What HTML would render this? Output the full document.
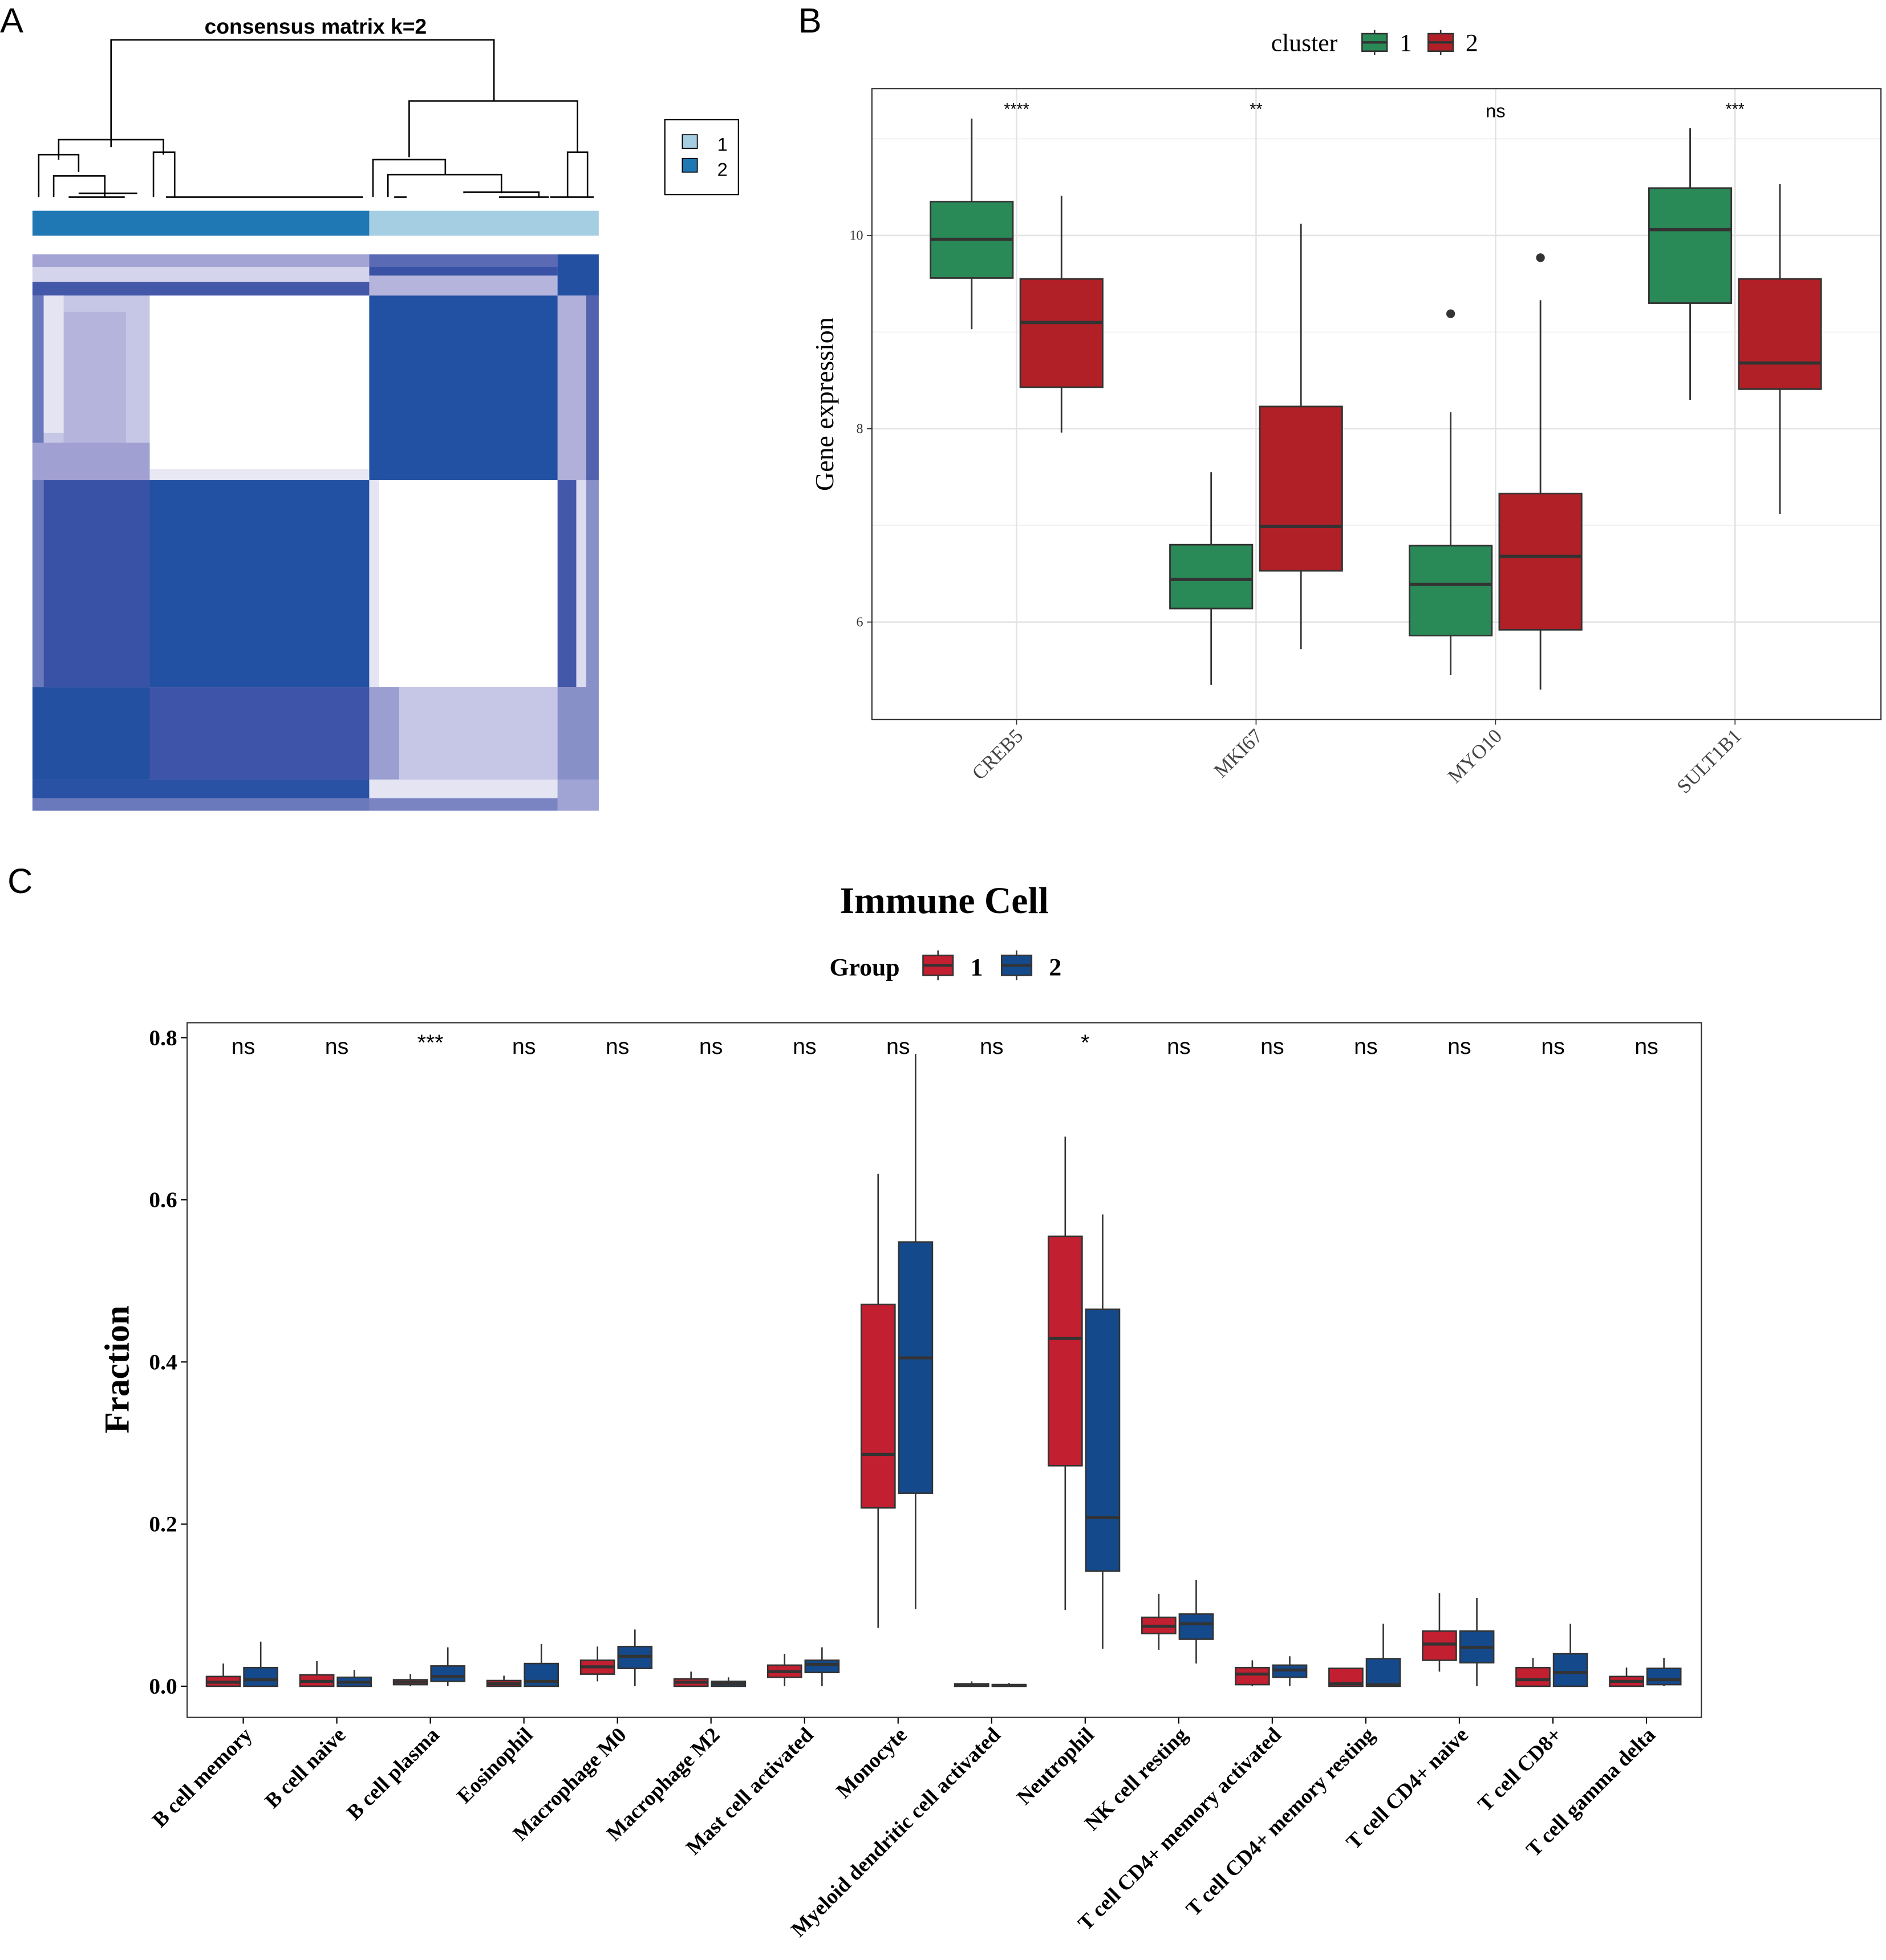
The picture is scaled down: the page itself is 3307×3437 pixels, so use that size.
<!DOCTYPE html>
<html><head><meta charset="utf-8"><style>
html,body{margin:0;padding:0;background:#fff;}
svg{display:block;}
.serif{font-family:"Liberation Serif",serif;}
.sans{font-family:"Liberation Sans",sans-serif;}
</style></head><body>
<svg id="fig" xmlns="http://www.w3.org/2000/svg" width="3307" height="3437" viewBox="0 0 1512 1571.5">
<rect x="0" y="0" width="1512" height="1571.5" fill="#fff"/>
<text class="sans" x="0" y="26" font-size="28">A</text>
<text class="sans" x="640" y="26" font-size="28">B</text>
<text class="sans" x="6" y="716" font-size="28">C</text>

<g id="panelA">
<text class="sans" x="253" y="27" font-size="17" font-weight="bold" text-anchor="middle">consensus matrix k=2</text>
<g id="dendro" stroke="#000" stroke-width="1.2" fill="none">
<path d="M89 118 V32 H396 V81"/>
<path d="M47 128 V112 H131 V124"/>
<path d="M31 158 V124 H63 V138"/>
<path d="M43 158 V141 H84 V158"/>
<path d="M55 158 H100 M63 155 H110"/>
<path d="M123 158 V122 H140 V158 M133 158 H150 M140 158 H291"/>
<path d="M328 126 V81 H463 V122"/>
<path d="M299 158 V128 H357 V140"/>
<path d="M311 158 V140 H402 V155"/>
<path d="M316 158 H326 M372 155 V154 H432 V158 M400 158 H440"/>
<path d="M455 158 V122 H471 V158 M441 158 H476"/>
</g>
<rect x="26" y="169" width="270" height="20" fill="#1f78b4"/>
<rect x="296" y="169" width="184" height="20" fill="#a6cee3"/>
<g id="heat">
<rect x="26" y="204" width="454" height="446" fill="#b0b0da"/>
<rect x="26" y="204" width="270" height="10" fill="#a4a4d4"/>
<rect x="26" y="214" width="270" height="12" fill="#d4d4ec"/>
<rect x="26" y="226" width="270" height="11" fill="#4458aa"/>
<rect x="296" y="204" width="151" height="10" fill="#5a6ab4"/>
<rect x="296" y="214" width="151" height="7" fill="#3a52a6"/>
<rect x="296" y="221" width="151" height="16" fill="#b4b4dc"/>
<rect x="447" y="204" width="33" height="33" fill="#2450a2"/>
<rect x="26" y="237" width="9" height="148" fill="#6a78bc"/>
<rect x="35" y="237" width="85" height="148" fill="#c6c6e6"/>
<rect x="51" y="250" width="50" height="105" fill="#b4b4dc"/>
<rect x="35" y="237" width="16" height="110" fill="#e4e4f2"/>
<rect x="26" y="355" width="94" height="30" fill="#a0a0d2"/>
<rect x="120" y="237" width="176" height="148" fill="#ffffff"/>
<rect x="120" y="376" width="176" height="9" fill="#e8e8f4"/>
<rect x="296" y="237" width="151" height="148" fill="#2250a2"/>
<rect x="447" y="237" width="23" height="148" fill="#b0b0da"/>
<rect x="470" y="237" width="10" height="148" fill="#5262ae"/>
<rect x="26" y="385" width="9" height="166" fill="#6a78bc"/>
<rect x="35" y="385" width="85" height="166" fill="#3a52a6"/>
<rect x="120" y="385" width="176" height="166" fill="#2250a2"/>
<rect x="296" y="385" width="151" height="166" fill="#ffffff"/>
<rect x="296" y="385" width="8" height="166" fill="#e4e4f2"/>
<rect x="447" y="385" width="15" height="166" fill="#4458aa"/>
<rect x="462" y="385" width="8" height="166" fill="#dcdcf0"/>
<rect x="470" y="385" width="10" height="166" fill="#8890c8"/>
<rect x="26" y="551" width="94" height="74" fill="#2450a2"/>
<rect x="120" y="551" width="176" height="74" fill="#3e54a8"/>
<rect x="296" y="551" width="151" height="74" fill="#c6c6e6"/>
<rect x="296" y="551" width="24" height="74" fill="#9a9ed0"/>
<rect x="447" y="551" width="33" height="74" fill="#8890c8"/>
<rect x="26" y="625" width="270" height="15" fill="#2a52a4"/>
<rect x="26" y="640" width="270" height="10" fill="#6a78bc"/>
<rect x="296" y="625" width="151" height="15" fill="#e4e4f2"/>
<rect x="296" y="640" width="151" height="10" fill="#7a84c2"/>
<rect x="447" y="625" width="33" height="25" fill="#a0a4d4"/>
</g>
<g>
<rect x="533" y="96" width="59" height="60" fill="#fff" stroke="#000" stroke-width="1"/>
<rect x="547" y="108" width="12" height="11" fill="#a6cee3" stroke="#000" stroke-width="0.8"/>
<rect x="547" y="127" width="12" height="11" fill="#1f78b4" stroke="#000" stroke-width="0.8"/>
<text class="sans" x="575" y="121" font-size="15">1</text>
<text class="sans" x="575" y="141" font-size="15">2</text>
</g>
</g>

<g id="panelB"></g>
<g id="panelC"></g>
</svg>
<script>
const NS='http://www.w3.org/2000/svg';
function mk(parent,tag,attrs,text){const e=document.createElementNS(NS,tag);for(const k in attrs)e.setAttribute(k,attrs[k]);if(text!==undefined)e.textContent=text;parent.appendChild(e);return e;}

const bGenes=['CREB5','MKI67','MYO10','SULT1B1'];
const bSig=['****','**','ns','***'];
const bC1Min=[9.03,5.35,5.45,8.30];
const bC1Q1=[9.56,6.14,5.86,9.30];
const bC1Med=[9.96,6.44,6.39,10.06];
const bC1Q3=[10.35,6.80,6.79,10.49];
const bC1Max=[11.21,7.55,8.17,11.11];
const bC1Out=[null,null,9.19,null];
const bC2Min=[7.96,5.72,5.30,7.12];
const bC2Q1=[8.43,6.53,5.92,8.41];
const bC2Med=[9.10,6.99,6.68,8.68];
const bC2Q3=[9.55,8.23,7.33,9.55];
const bC2Max=[10.41,10.12,9.33,10.53];
const bC2Out=[null,null,9.77,null];
const bTicks=[6,8,10];

const cCells=['B cell memory','B cell naive','B cell plasma','Eosinophil','Macrophage M0','Macrophage M2','Mast cell activated','Monocyte','Myeloid dendritic cell activated','Neutrophil','NK cell resting','T cell CD4+ memory activated','T cell CD4+ memory resting','T cell CD4+ naive','T cell CD8+','T cell gamma delta'];
const cSig=['ns','ns','***','ns','ns','ns','ns','ns','ns','*','ns','ns','ns','ns','ns','ns'];
const cG1Min=[0,0,0,0,0.006,0,0,0.072,0,0.094,0.045,0,0,0.018,0,0];
const cG1Q1=[0,0,0.002,0,0.015,0,0.011,0.22,0,0.272,0.065,0.002,0,0.032,0,0];
const cG1Med=[0.005,0.006,0.005,0.003,0.024,0.005,0.018,0.286,0.002,0.429,0.074,0.015,0.003,0.052,0.008,0.006];
const cG1Q3=[0.012,0.014,0.008,0.007,0.032,0.009,0.026,0.471,0.003,0.555,0.085,0.023,0.022,0.068,0.023,0.012];
const cG1Max=[0.028,0.031,0.015,0.013,0.049,0.018,0.04,0.632,0.006,0.678,0.114,0.032,0.022,0.115,0.035,0.023];
const cG2Min=[0,0,0,0,0,0,0,0.095,0,0.046,0.028,0,0,0,0,0];
const cG2Q1=[0,0,0.006,0,0.022,0,0.017,0.238,0,0.142,0.058,0.011,0,0.029,0,0.002];
const cG2Med=[0.008,0.005,0.012,0.006,0.037,0.003,0.027,0.405,0.001,0.208,0.077,0.02,0.002,0.048,0.017,0.008];
const cG2Q3=[0.023,0.011,0.025,0.028,0.049,0.006,0.032,0.548,0.002,0.465,0.089,0.026,0.034,0.068,0.04,0.022];
const cG2Max=[0.055,0.02,0.048,0.052,0.07,0.011,0.048,0.78,0.004,0.582,0.131,0.037,0.077,0.109,0.077,0.035];
const cTicks=[0,0.2,0.4,0.6,0.8];
const cTickLabels=['0.0','0.2','0.4','0.6','0.8'];

function drawBox(g,cx,w,y,mn,q1,md,q3,mx,fill,lw){
  mk(g,'line',{x1:cx,x2:cx,y1:y(mx),y2:y(q3),stroke:'#333',"stroke-width":lw});
  mk(g,'line',{x1:cx,x2:cx,y1:y(q1),y2:y(mn),stroke:'#333',"stroke-width":lw});
  mk(g,'rect',{x:cx-w/2,y:y(q3),width:w,height:Math.max(0.5,y(q1)-y(q3)),fill:fill,stroke:'#333',"stroke-width":lw});
  mk(g,'line',{x1:cx-w/2,x2:cx+w/2,y1:y(md),y2:y(md),stroke:'#333',"stroke-width":lw*2});
}

(function(){
  const B=document.getElementById('panelB');
  const L=699,R=1508,T=71,Bt=577;
  const yMin=4.99,yMax=11.52;
  const y=v=>Bt-(v-yMin)/(yMax-yMin)*(Bt-T);
  const x=i=>815+192*i;
  const bg=mk(B,'g',{});
  
  
  for(let v=5;v<=11;v+=2){mk(bg,'line',{x1:L,x2:R,y1:y(v),y2:y(v),stroke:'#f0f0f0',"stroke-width":0.8});}
  bTicks.forEach(t=>{
    mk(bg,'line',{x1:L,x2:R,y1:y(t),y2:y(t),stroke:'#e3e3e3',"stroke-width":1.2});
    const tl=mk(B,'text',{x:L-7,y:y(t)+3.5,"font-size":11,"text-anchor":"end",class:"serif",fill:"#333"},String(t));
    
    
    mk(B,'line',{x1:L-4,x2:L,y1:y(t),y2:y(t),stroke:'#333',"stroke-width":0.8});
  });
  bGenes.forEach((gname,i)=>{
    mk(bg,'line',{x1:x(i),x2:x(i),y1:T,y2:Bt,stroke:'#e3e3e3',"stroke-width":1.2});
  });
  bGenes.forEach((gname,i)=>{
    const g=mk(B,'g',{});
    
    
    drawBox(g,x(i)-36,66,y,bC1Min[i],bC1Q1[i],bC1Med[i],bC1Q3[i],bC1Max[i],'#2a8a57',1.3);
    drawBox(g,x(i)+36,66,y,bC2Min[i],bC2Q1[i],bC2Med[i],bC2Q3[i],bC2Max[i],'#b22027',1.3);
    if(bC1Out[i]!==null){const c=mk(g,'circle',{cx:x(i)-36,cy:y(bC1Out[i]),r:3.5,fill:'#333'});}
    if(bC2Out[i]!==null){const c=mk(g,'circle',{cx:x(i)+36,cy:y(bC2Out[i]),r:3.5,fill:'#333'});}
    const s=mk(B,'text',{x:x(i),y:bSig[i]==='ns'?94:92,"font-size":bSig[i]==='ns'?15:13,"text-anchor":"middle",class:"sans"},bSig[i]);
    
    
    mk(B,'line',{x1:x(i),x2:x(i),y1:Bt,y2:Bt+4,stroke:'#333',"stroke-width":0.8});
    const xl=mk(B,'text',{x:x(i)+6,y:Bt+14,"font-size":16,"text-anchor":"end",class:"serif",fill:"#444",transform:`rotate(-45 ${x(i)+6} ${Bt+14})`},gname);
    
    
  });
  mk(B,'rect',{x:L,y:T,width:R-L,height:Bt-T,fill:'none',stroke:'#333',"stroke-width":1});
  const yt=mk(B,'text',{x:668,y:324,"font-size":21,"text-anchor":"middle",class:"serif",transform:"rotate(-90 668 324)"},'Gene expression');
  
  
  const lg=mk(B,'g',{});
  
  
  mk(lg,'text',{x:1019,y:41,"font-size":20,class:"serif"},'cluster');
  [['#2a8a57',1092,'1'],['#b22027',1145,'2']].forEach(([c,lx,lab])=>{
    mk(lg,'line',{x1:lx+10,x2:lx+10,y1:24,y2:44,stroke:'#333',"stroke-width":1.2});
    mk(lg,'rect',{x:lx,y:27,width:20,height:14,fill:c,stroke:'#333',"stroke-width":1.2});
    mk(lg,'line',{x1:lx,x2:lx+20,y1:34,y2:34,stroke:'#333',"stroke-width":2});
    mk(lg,'text',{x:lx+30,y:41,"font-size":20,class:"serif"},lab);
  });
})();

(function(){
  const C=document.getElementById('panelC');
  const L=150,R=1364,T=820,Bt=1377;
  const y=v=>1352-v*650;
  const x=i=>195+75*i;
  const t=mk(C,'text',{x:757,y:732,"font-size":30,"font-weight":"bold","text-anchor":"middle",class:"serif"},'Immune Cell');
  
  
  const lg=mk(C,'g',{});
  
  
  mk(lg,'text',{x:665,y:782,"font-size":20,"font-weight":"bold",class:"serif"},'Group');
  [['#c21f30',740,'1'],['#144a8c',803,'2']].forEach(([c,lx,lab])=>{
    mk(lg,'line',{x1:lx+12,x2:lx+12,y1:762,y2:786,stroke:'#333',"stroke-width":1.2});
    mk(lg,'rect',{x:lx,y:766,width:24,height:16,fill:c,stroke:'#333',"stroke-width":1.2});
    mk(lg,'line',{x1:lx,x2:lx+24,y1:774,y2:774,stroke:'#333',"stroke-width":2});
    mk(lg,'text',{x:lx+38,y:782,"font-size":20,"font-weight":"bold",class:"serif"},lab);
  });
  cTicks.forEach((v,k)=>{
    mk(C,'line',{x1:L-5,x2:L,y1:y(v),y2:y(v),stroke:'#000',"stroke-width":1});
    const tl=mk(C,'text',{x:L-8,y:y(v)+6,"font-size":18,"font-weight":"bold","text-anchor":"end",class:"serif"},cTickLabels[k]);
    
    
  });
  cCells.forEach((cell,i)=>{
    const g=mk(C,'g',{});
    
    
    drawBox(g,x(i)-16,27,y,cG1Min[i],cG1Q1[i],cG1Med[i],cG1Q3[i],cG1Max[i],'#c21f30',1.2);
    drawBox(g,x(i)+14,27,y,cG2Min[i],cG2Q1[i],cG2Med[i],cG2Q3[i],cG2Max[i],'#144a8c',1.2);
    const s=mk(C,'text',{x:x(i),y:cSig[i]==='ns'?845:842,"font-size":18,"text-anchor":"middle",class:"sans"},cSig[i]);
    
    
    mk(C,'line',{x1:x(i),x2:x(i),y1:Bt,y2:Bt+5,stroke:'#000',"stroke-width":1});
    const xl=mk(C,'text',{x:x(i)+8,y:Bt+15,"font-size":17,"font-weight":"bold","text-anchor":"end",class:"serif",transform:`rotate(-45 ${x(i)+8} ${Bt+15})`},cell);
    
    
  });
  mk(C,'rect',{x:L,y:T,width:R-L,height:Bt-T,fill:'none',stroke:'#333',"stroke-width":1});
  const yt=mk(C,'text',{x:103,y:1098,"font-size":28,"font-weight":"bold","text-anchor":"middle",class:"serif",transform:"rotate(-90 103 1098)"},'Fraction');
  
  
})();
</script>
</body></html>
